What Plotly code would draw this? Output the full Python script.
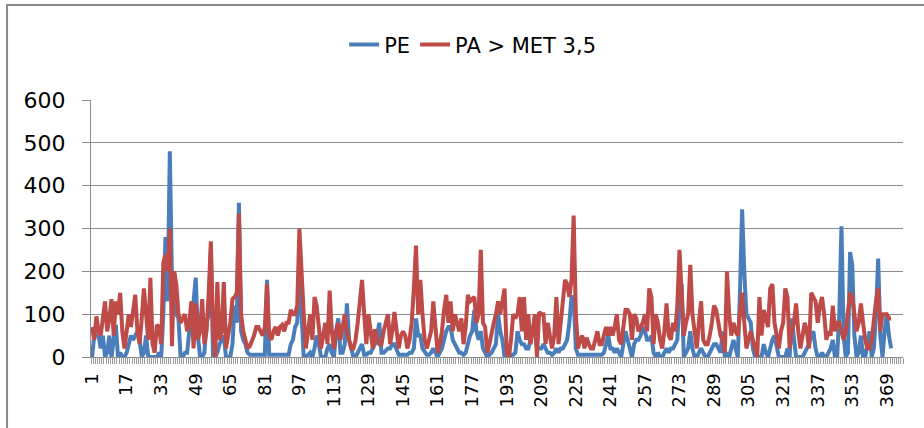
import plotly.graph_objects as go

series_names = ["PE", "PA > MET 3,5"]
tick_labels = [str(v) for v in range(1, 370, 16)]
y_ticks = [0, 100, 200, 300, 400, 500, 600]

pe = [
    0, 50, 50, 50, 20, 50, 0, 10, 50, 0,
    40, 75, 0, 10, 0, 0, 10, 30, 50, 40,
    50, 60, 40, 0, 10, 50, 0, 0, 0, 0,
    0, 10, 0, 100, 280, 130, 480, 180, 200, 100,
    90, 0, 0, 10, 10, 60, 70, 130,
    185, 50, 0, 0, 10, 80, 100, 250,
    0, 0, 10, 30, 40, 50, 0, 0, 0, 30,
    120, 80, 360, 60, 40, 30, 10, 5, 5, 5,
    5, 5, 5, 5, 5, 180, 5, 5, 5, 5,
    5, 5, 5, 5, 5, 5, 30, 40, 70, 80,
    200, 80, 0, 0, 5, 10, 0, 20, 50, 30,
    0, 0, 0, 20, 30, 10, 0, 60, 90, 10,
    10, 30, 125, 40, 20, 0, 0, 10, 20, 30,
    5, 5, 10, 10, 20, 30, 50, 80, 10, 10,
    15, 20, 20, 30, 30, 20, 5, 5, 5, 5,
    5, 10, 10, 20, 90, 50, 50, 20, 10, 5,
    5, 10, 20, 10, 0, 10, 20, 40, 60, 70,
    70, 40, 30, 20, 10, 10, 5, 10, 30, 50,
    60, 110, 60, 40, 60, 20, 10, 0, 5, 10,
    20, 30, 100, 60, 40, 0, 0, 0, 5, 5,
    10, 60, 40, 30, 30, 20, 20, 40, 60, 80,
    20, 20, 20, 30, 20, 10, 10, 5, 10, 20,
    10, 20, 20, 30, 40, 80, 140, 140, 20, 5,
    5, 5, 5, 5, 5, 5, 5, 5, 5, 5,
    5, 10, 30, 50, 20, 20, 10, 20, 10, 0,
    30, 60, 40, 20, 0, 30, 40, 40, 50, 70,
    60, 40, 40, 50, 10, 0, 10, 0, 0, 10,
    20, 10, 20, 20, 30, 40, 130, 170, 0, 10,
    20, 60, 20, 0, 0, 10, 20, 10, 0, 0,
    10, 20, 30, 30, 20, 10, 60, 0, 10, 0,
    20, 40, 20, 0, 150, 345, 200, 100, 90, 80,
    20, 0, 0, 0, 0, 30, 10, 0, 20, 40,
    50, 20, 0, 0, 0, 0, 20, 0, 90, 40,
    0, 0, 0, 0, 10, 20, 30, 50, 60, 20,
    0, 0, 10, 0, 0, 10, 20, 40, 0, 0,
    100, 305, 50, 0, 10, 245, 215, 50, 0, 10,
    50, 0, 0, 30, 60, 0, 20, 100, 230, 50,
    0, 60, 100, 50, 20,
]

pa = [
    70, 40, 95, 60, 50, 90, 130, 60, 90, 135,
    50, 130, 100, 150, 60, 20, 70, 100, 70, 110,
    145, 60, 30, 90, 160, 100, 40, 185, 30, 10,
    75, 70, 30, 220, 240, 200, 300, 25, 200, 170,
    100, 80, 90, 100, 60, 80, 130, 20,
    125, 40, 60, 135, 30, 60, 150, 270,
    60, 0, 175, 40, 60, 175, 20, 50, 80, 135,
    140, 150, 335, 100, 60, 40, 20, 25, 35, 50,
    70, 70, 60, 50, 70, 170, 50, 40, 60, 70,
    50, 70, 75, 60, 80, 80, 110, 100, 100, 120,
    300, 180, 100, 20, 60, 100, 40, 140, 120, 60,
    20, 50, 80, 30, 155, 60, 20, 60, 80, 40,
    70, 100, 60, 40, 20, 20, 40, 80, 130, 180,
    100, 30, 100, 60, 20, 65, 40, 30, 30, 60,
    80, 100, 30, 60, 105, 50, 20, 50, 60, 50,
    20, 40, 80, 160, 260, 100, 180, 100, 40, 20,
    40, 60, 130, 60, 10, 30, 60, 110, 145, 80,
    130, 60, 100, 80, 60, 90, 30, 70, 145, 130,
    135, 140, 80, 100, 250, 80, 70, 10, 30, 60,
    80, 100, 130, 100, 130, 160, 10, 0, 40, 100,
    90, 100, 140, 60, 140, 40, 100, 30, 60, 100,
    0, 105, 100, 100, 30, 80, 50, 20, 50, 140,
    30, 80, 120, 180, 170, 140, 180, 330, 100, 20,
    40, 50, 20, 45, 30, 20, 20, 40, 60, 30,
    30, 50, 70, 50, 70, 50, 70, 100, 40, 30,
    80, 110, 110, 100, 40, 100, 90, 60, 70, 80,
    100, 60, 160, 140, 30, 100, 80, 40, 20, 60,
    125, 50, 40, 80, 60, 120, 250, 160, 50, 80,
    100, 215, 100, 60, 20, 80, 130, 40, 30, 30,
    50, 80, 120, 110, 80, 50, 40, 10, 200, 100,
    50, 80, 60, 50, 100, 150, 80, 20, 40, 60,
    40, 20, 0, 140, 50, 110, 90, 70, 160, 170,
    80, 50, 20, 60, 80, 160, 140, 20, 60, 80,
    125, 60, 20, 50, 80, 60, 20, 150, 140, 130,
    80, 120, 140, 100, 40, 60, 50, 120, 60, 80,
    80, 60, 40, 60, 110, 150, 140, 90, 60, 80,
    125, 80, 40, 20, 20, 40, 90, 130, 160, 60,
    100, 100, 100, 90, 90,
]

x = list(range(1, len(pe) + 1))
n_slots = 376

FONT = "'DejaVu Sans', Verdana, sans-serif"
GRID = "#8c8c8c"

fig = go.Figure()
fig.add_trace(go.Scatter(x=x, y=pe, mode="lines", name=series_names[0],
                         line=dict(color="#4A7EBB", width=4)))
fig.add_trace(go.Scatter(x=x, y=pa, mode="lines", name=series_names[1],
                         line=dict(color="#BE4B48", width=4)))

fig.update_layout(
    width=924, height=428,
    margin=dict(l=91, r=21, t=100, b=71),
    paper_bgcolor="white", plot_bgcolor="white",
    font=dict(family=FONT, color="#000000", size=21),
    showlegend=True,
    legend=dict(orientation="h", x=0.47, xanchor="center", y=1.215, yanchor="middle",
                font=dict(size=21), traceorder="normal"),
    xaxis=dict(
        range=[0.5, n_slots + 0.5],
        tickmode="array", tickvals=list(range(1, 370, 16)), ticktext=tick_labels,
        tickangle=-90, tickfont=dict(size=18), ticks="", ticklabelstandoff=8,
        showgrid=False, zeroline=False,
        showline=True, linecolor=GRID, linewidth=1,
        minor=dict(dtick=1, tick0=0.5, ticks="outside", ticklen=6,
                   tickcolor="#9a9a9a", tickwidth=1, showgrid=False),
    ),
    yaxis=dict(
        range=[0, 600], tickmode="array", tickvals=y_ticks,
        ticks="outside", ticklen=8, tickcolor=GRID,
        tickfont=dict(size=22), ticklabelstandoff=12,
        showgrid=True, gridcolor=GRID, gridwidth=1,
        zeroline=False, showline=True, linecolor=GRID, linewidth=1,
    ),
    shapes=[dict(type="rect", xref="paper", yref="paper",
                 x0=-0.1034, x1=1.1, y0=-0.6, y1=1.3696,
                 line=dict(color="#8a8a8a", width=2), fillcolor="rgba(0,0,0,0)",
                 layer="below")],
)

fig.write_html("out.html", config={"displayModeBar": False},
               post_script="document.body.style.margin='0';")
